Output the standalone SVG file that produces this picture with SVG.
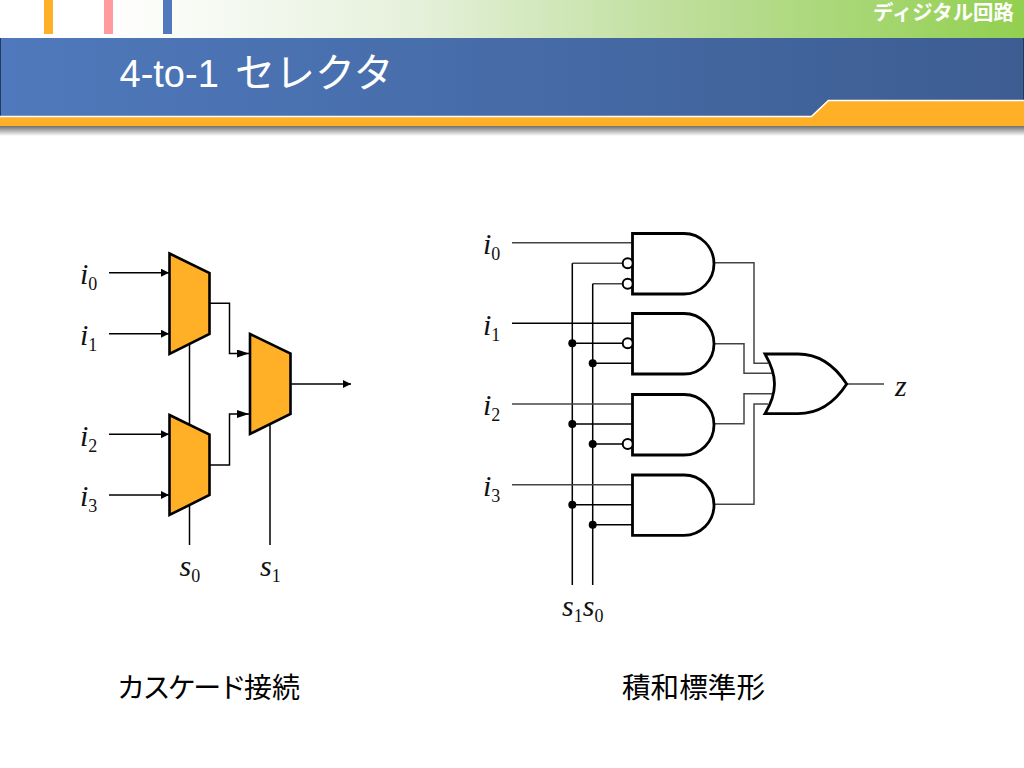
<svg xmlns="http://www.w3.org/2000/svg" width="1024" height="768" viewBox="0 0 1024 768">
<style>
.w{fill:none;stroke:#000;stroke-width:1.5}
.g{fill:none;stroke:#444;stroke-width:1.5}
.mux{fill:#ffb027;stroke:#000;stroke-width:2.6;stroke-linejoin:miter}
.gate{fill:#fff;stroke:#000;stroke-width:2.8;stroke-linejoin:miter}
.bub{fill:#fff;stroke:#000;stroke-width:2}
.dot{fill:#000}
.v{font-family:"Liberation Serif",serif;font-size:30px;font-style:italic;fill:#111}
.n{font-style:normal;font-size:18px}
.jp{font-family:"Liberation Sans","Noto Sans CJK JP",sans-serif;fill:#000;font-size:28px}
</style>
<defs>
<linearGradient id="top" x1="0" x2="1" y1="0" y2="0"><stop offset="0.1" stop-color="#fff"/><stop offset="0.4" stop-color="#e6f1dc"/><stop offset="0.7" stop-color="#b9dc92"/><stop offset="1" stop-color="#92d050"/></linearGradient>
<linearGradient id="blue" x1="0" x2="1" y1="0" y2="0"><stop offset="0" stop-color="#4f79bc"/><stop offset="1" stop-color="#3d5d92"/></linearGradient>
<linearGradient id="sh" x1="0" x2="0" y1="0" y2="1"><stop offset="0" stop-color="#6e6e6e"/><stop offset="1" stop-color="#fff"/></linearGradient>
<marker id="a" markerUnits="userSpaceOnUse" markerWidth="10" markerHeight="10" refX="8" refY="4" orient="auto"><path d="M0 0L8 4L0 8Z" fill="#000"/></marker>
<marker id="b" markerUnits="userSpaceOnUse" markerWidth="14" markerHeight="10" refX="12" refY="4" orient="auto"><path d="M0 0L12 4L0 8Z" fill="#000"/></marker>
<marker id="c" markerUnits="userSpaceOnUse" markerWidth="10" markerHeight="10" refX="8" refY="4" orient="auto"><path d="M0 0L8 4L0 8Z" fill="#000"/></marker>
</defs>
<g id="header">
<rect x="0" y="0" width="1024" height="38" fill="url(#top)"/>
<rect x="44" y="0" width="9" height="34" fill="#ffb027"/>
<rect x="104" y="0" width="9" height="34" fill="#ff9a9e"/>
<rect x="163" y="0" width="9" height="34" fill="#4f79bc"/>
<rect x="0" y="38" width="1024" height="80" fill="url(#blue)"/>
<rect x="0" y="38" width="1" height="78" fill="#1f3864"/>
<rect x="1023" y="38" width="1" height="62" fill="#1f3864"/>
<rect x="0" y="126" width="1024" height="10" fill="url(#sh)"/>
<path d="M0 116H811L828 100H1024V126H0Z" fill="#ffb027"/>
<path d="M0 116.500H811.500L828.500 100.500H1024" fill="none" stroke="#fff" stroke-width="1.500"/>
<text x="119.500" y="87" font-family="'Liberation Sans','Noto Sans CJK JP',sans-serif" font-size="38" fill="#fff">4-to-1<tspan x="235" font-size="40">セレクタ</tspan></text>
<text x="873" y="20" font-family="'Liberation Sans','Noto Sans CJK JP',sans-serif" font-size="20.400" font-weight="700" fill="#fff">ディジタル回路</text>
</g>
<g id="connectors">
<path class="w" marker-end="url(#a)" d="M109 272.700H169"/>
<path class="w" marker-end="url(#a)" d="M109 333.700H169"/>
<path class="w" marker-end="url(#a)" d="M109 434.300H169"/>
<path class="w" marker-end="url(#a)" d="M109 495H169"/>
<path class="w" marker-end="url(#b)" d="M210 303.300H229.500V353.500H249"/>
<path class="w" marker-end="url(#b)" d="M210 465H229.500V414H249"/>
<path class="w" marker-end="url(#c)" d="M290 384H351"/>
<path class="w" d="M189.500 344V424M189.500 505V545M270 424V545"/>
<path class="g" d="M512 242.700H632M572.300 263.300H622M592.700 283.700H622"/>
<path class="w" d="M572.300 263.300V585M592.700 283.700V585"/>
<path class="w" d="M512 323.300H632M572.300 343.300H622M592.700 363.300H632"/>
<path class="g" d="M512 404H632"/>
<path class="w" d="M572.300 424H632M592.700 444H622"/>
<path class="g" d="M512 484.700H632"/>
<path class="w" d="M572.300 504.700H632M592.700 524.700H632"/>
<path class="g" d="M714 262.700H754V363.300H768M714 343.700H744V373.300H772M714 423.700H744V393.700H772M714 504.300H754V404H768M847 384H884"/>
</g>
<g id="dots">
<circle class="dot" cx="572.300" cy="343.300" r="4"/><circle class="dot" cx="592.700" cy="363.300" r="4"/>
<circle class="dot" cx="572.300" cy="424" r="4"/><circle class="dot" cx="592.700" cy="444" r="4"/>
<circle class="dot" cx="572.300" cy="504.700" r="4"/><circle class="dot" cx="592.700" cy="524.700" r="4"/>
</g>
<g id="mux0"><path class="mux" d="M169.500 253.500L209.500 273V334L169.500 354Z"/></g>
<g id="mux1"><path class="mux" d="M169.500 415L209.500 434.500V495L169.500 515Z"/></g>
<g id="mux2"><path class="mux" d="M250 334L290.500 353.500V414L250 434Z"/></g>
<g id="and0"><path class="gate" d="M632.500 233.500H684A30 30.250 0 0 1 684 294H632.500Z"/><circle class="bub" cx="627.700" cy="263.300" r="5"/><circle class="bub" cx="627.700" cy="283.700" r="5"/></g>
<g id="and1"><path class="gate" d="M632.500 313.500H684A30 30.250 0 0 1 684 374H632.500Z"/><circle class="bub" cx="627.700" cy="343.300" r="5"/></g>
<g id="and2"><path class="gate" d="M632.500 394.500H684A30 30.250 0 0 1 684 455H632.500Z"/><circle class="bub" cx="627.700" cy="444" r="5"/></g>
<g id="and3"><path class="gate" d="M632.500 475H684A30 30.150 0 0 1 684 535.300H632.500Z"/></g>
<g id="or"><path class="gate" d="M765 354H798C819 354 835 366 846.700 384C835 402 819 413.700 798 413.700H765C772 402 774.500 393 774.500 384S772 366 765 354Z"/></g>
<g id="labels">
<text class="v" x="80" y="284">i<tspan class="n" dy="6">0</tspan></text>
<text class="v" x="80" y="345">i<tspan class="n" dy="6">1</tspan></text>
<text class="v" x="80" y="446">i<tspan class="n" dy="6">2</tspan></text>
<text class="v" x="80" y="506">i<tspan class="n" dy="6">3</tspan></text>
<text class="v" x="179.500" y="576">s<tspan class="n" dy="6">0</tspan></text>
<text class="v" x="260" y="576">s<tspan class="n" dy="6">1</tspan></text>
<text class="v" x="483" y="254">i<tspan class="n" dy="6">0</tspan></text>
<text class="v" x="483" y="335">i<tspan class="n" dy="6">1</tspan></text>
<text class="v" x="483" y="415">i<tspan class="n" dy="6">2</tspan></text>
<text class="v" x="483" y="496">i<tspan class="n" dy="6">3</tspan></text>
<text class="v" x="562" y="616">s<tspan class="n" dy="6">1</tspan><tspan dy="-6">s</tspan><tspan class="n" dy="6">0</tspan></text>
<text class="v" x="895" y="396">z</text>
<text class="jp" x="117" y="698"><tspan letter-spacing="-2.600">カスケード</tspan>接続</text>
<text class="jp" x="622" y="698" style="font-size:28.600px">積和標準形</text>
</g>
</svg>
